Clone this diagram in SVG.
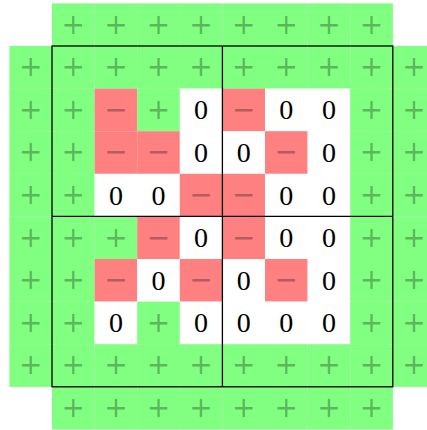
<svg xmlns="http://www.w3.org/2000/svg" width="427" height="430" viewBox="0 0 427 430">
<style>
rect{stroke:none}
.g{fill:#80ff80}
.r{fill:#ff8080}
.w{fill:#ffffff}
.s{font-family:"DejaVu Sans",sans-serif;font-size:28px;fill:#000;fill-opacity:0.3;text-anchor:middle}
.z{font-family:"Liberation Serif","Times New Roman",serif;font-size:28px;fill:#000;text-anchor:middle}
.box{fill:none;stroke:#000;stroke-width:1.3}
</style>
<g id="cells">
<g id="c0-1" transform="translate(52.0,3.4)"><rect class="g" width="42.7" height="42.7"/><text class="s" x="21.3" y="30.2">+</text></g>
<g id="c0-2" transform="translate(94.6,3.4)"><rect class="g" width="42.7" height="42.7"/><text class="s" x="21.3" y="30.2">+</text></g>
<g id="c0-3" transform="translate(137.2,3.4)"><rect class="g" width="42.7" height="42.7"/><text class="s" x="21.3" y="30.2">+</text></g>
<g id="c0-4" transform="translate(179.8,3.4)"><rect class="g" width="42.7" height="42.7"/><text class="s" x="21.3" y="30.2">+</text></g>
<g id="c0-5" transform="translate(222.4,3.4)"><rect class="g" width="42.7" height="42.7"/><text class="s" x="21.3" y="30.2">+</text></g>
<g id="c0-6" transform="translate(265.0,3.4)"><rect class="g" width="42.7" height="42.7"/><text class="s" x="21.3" y="30.2">+</text></g>
<g id="c0-7" transform="translate(307.6,3.4)"><rect class="g" width="42.7" height="42.7"/><text class="s" x="21.3" y="30.2">+</text></g>
<g id="c0-8" transform="translate(350.2,3.4)"><rect class="g" width="42.7" height="42.7"/><text class="s" x="21.3" y="30.2">+</text></g>

<g id="c1-0" transform="translate(9.4,46.0)"><rect class="g" width="42.7" height="42.7"/><text class="s" x="21.3" y="30.2">+</text></g>
<g id="c1-1" transform="translate(52.0,46.0)"><rect class="g" width="42.7" height="42.7"/><text class="s" x="21.3" y="30.2">+</text></g>
<g id="c1-2" transform="translate(94.6,46.0)"><rect class="g" width="42.7" height="42.7"/><text class="s" x="21.3" y="30.2">+</text></g>
<g id="c1-3" transform="translate(137.2,46.0)"><rect class="g" width="42.7" height="42.7"/><text class="s" x="21.3" y="30.2">+</text></g>
<g id="c1-4" transform="translate(179.8,46.0)"><rect class="g" width="42.7" height="42.7"/><text class="s" x="21.3" y="30.2">+</text></g>
<g id="c1-5" transform="translate(222.4,46.0)"><rect class="g" width="42.7" height="42.7"/><text class="s" x="21.3" y="30.2">+</text></g>
<g id="c1-6" transform="translate(265.0,46.0)"><rect class="g" width="42.7" height="42.7"/><text class="s" x="21.3" y="30.2">+</text></g>
<g id="c1-7" transform="translate(307.6,46.0)"><rect class="g" width="42.7" height="42.7"/><text class="s" x="21.3" y="30.2">+</text></g>
<g id="c1-8" transform="translate(350.2,46.0)"><rect class="g" width="42.7" height="42.7"/><text class="s" x="21.3" y="30.2">+</text></g>
<g id="c1-9" transform="translate(392.8,46.0)"><rect class="g" width="42.7" height="42.7"/><text class="s" x="21.3" y="30.2">+</text></g>

<g id="c2-0" transform="translate(9.4,88.6)"><rect class="g" width="42.7" height="42.7"/><text class="s" x="21.3" y="30.2">+</text></g>
<g id="c2-1" transform="translate(52.0,88.6)"><rect class="g" width="42.7" height="42.7"/><text class="s" x="21.3" y="30.2">+</text></g>
<g id="c2-2" transform="translate(94.6,88.6)"><rect class="r" width="42.7" height="42.7"/><text class="s" x="21.3" y="30.2">−</text></g>
<g id="c2-3" transform="translate(137.2,88.6)"><rect class="g" width="42.7" height="42.7"/><text class="s" x="21.3" y="30.2">+</text></g>
<g id="c2-4" transform="translate(179.8,88.6)"><rect class="w" width="42.7" height="42.7"/><text class="z" x="21.3" y="30.8">0</text></g>
<g id="c2-5" transform="translate(222.4,88.6)"><rect class="r" width="42.7" height="42.7"/><text class="s" x="21.3" y="30.2">−</text></g>
<g id="c2-6" transform="translate(265.0,88.6)"><rect class="w" width="42.7" height="42.7"/><text class="z" x="21.3" y="30.8">0</text></g>
<g id="c2-7" transform="translate(307.6,88.6)"><rect class="w" width="42.7" height="42.7"/><text class="z" x="21.3" y="30.8">0</text></g>
<g id="c2-8" transform="translate(350.2,88.6)"><rect class="g" width="42.7" height="42.7"/><text class="s" x="21.3" y="30.2">+</text></g>
<g id="c2-9" transform="translate(392.8,88.6)"><rect class="g" width="42.7" height="42.7"/><text class="s" x="21.3" y="30.2">+</text></g>

<g id="c3-0" transform="translate(9.4,131.2)"><rect class="g" width="42.7" height="42.7"/><text class="s" x="21.3" y="30.2">+</text></g>
<g id="c3-1" transform="translate(52.0,131.2)"><rect class="g" width="42.7" height="42.7"/><text class="s" x="21.3" y="30.2">+</text></g>
<g id="c3-2" transform="translate(94.6,131.2)"><rect class="r" width="42.7" height="42.7"/><text class="s" x="21.3" y="30.2">−</text></g>
<g id="c3-3" transform="translate(137.2,131.2)"><rect class="r" width="42.7" height="42.7"/><text class="s" x="21.3" y="30.2">−</text></g>
<g id="c3-4" transform="translate(179.8,131.2)"><rect class="w" width="42.7" height="42.7"/><text class="z" x="21.3" y="30.8">0</text></g>
<g id="c3-5" transform="translate(222.4,131.2)"><rect class="w" width="42.7" height="42.7"/><text class="z" x="21.3" y="30.8">0</text></g>
<g id="c3-6" transform="translate(265.0,131.2)"><rect class="r" width="42.7" height="42.7"/><text class="s" x="21.3" y="30.2">−</text></g>
<g id="c3-7" transform="translate(307.6,131.2)"><rect class="w" width="42.7" height="42.7"/><text class="z" x="21.3" y="30.8">0</text></g>
<g id="c3-8" transform="translate(350.2,131.2)"><rect class="g" width="42.7" height="42.7"/><text class="s" x="21.3" y="30.2">+</text></g>
<g id="c3-9" transform="translate(392.8,131.2)"><rect class="g" width="42.7" height="42.7"/><text class="s" x="21.3" y="30.2">+</text></g>

<g id="c4-0" transform="translate(9.4,173.8)"><rect class="g" width="42.7" height="42.7"/><text class="s" x="21.3" y="30.2">+</text></g>
<g id="c4-1" transform="translate(52.0,173.8)"><rect class="g" width="42.7" height="42.7"/><text class="s" x="21.3" y="30.2">+</text></g>
<g id="c4-2" transform="translate(94.6,173.8)"><rect class="w" width="42.7" height="42.7"/><text class="z" x="21.3" y="30.8">0</text></g>
<g id="c4-3" transform="translate(137.2,173.8)"><rect class="w" width="42.7" height="42.7"/><text class="z" x="21.3" y="30.8">0</text></g>
<g id="c4-4" transform="translate(179.8,173.8)"><rect class="r" width="42.7" height="42.7"/><text class="s" x="21.3" y="30.2">−</text></g>
<g id="c4-5" transform="translate(222.4,173.8)"><rect class="r" width="42.7" height="42.7"/><text class="s" x="21.3" y="30.2">−</text></g>
<g id="c4-6" transform="translate(265.0,173.8)"><rect class="w" width="42.7" height="42.7"/><text class="z" x="21.3" y="30.8">0</text></g>
<g id="c4-7" transform="translate(307.6,173.8)"><rect class="w" width="42.7" height="42.7"/><text class="z" x="21.3" y="30.8">0</text></g>
<g id="c4-8" transform="translate(350.2,173.8)"><rect class="g" width="42.7" height="42.7"/><text class="s" x="21.3" y="30.2">+</text></g>
<g id="c4-9" transform="translate(392.8,173.8)"><rect class="g" width="42.7" height="42.7"/><text class="s" x="21.3" y="30.2">+</text></g>

<g id="c5-0" transform="translate(9.4,216.4)"><rect class="g" width="42.7" height="42.7"/><text class="s" x="21.3" y="30.2">+</text></g>
<g id="c5-1" transform="translate(52.0,216.4)"><rect class="g" width="42.7" height="42.7"/><text class="s" x="21.3" y="30.2">+</text></g>
<g id="c5-2" transform="translate(94.6,216.4)"><rect class="g" width="42.7" height="42.7"/><text class="s" x="21.3" y="30.2">+</text></g>
<g id="c5-3" transform="translate(137.2,216.4)"><rect class="r" width="42.7" height="42.7"/><text class="s" x="21.3" y="30.2">−</text></g>
<g id="c5-4" transform="translate(179.8,216.4)"><rect class="w" width="42.7" height="42.7"/><text class="z" x="21.3" y="30.8">0</text></g>
<g id="c5-5" transform="translate(222.4,216.4)"><rect class="r" width="42.7" height="42.7"/><text class="s" x="21.3" y="30.2">−</text></g>
<g id="c5-6" transform="translate(265.0,216.4)"><rect class="w" width="42.7" height="42.7"/><text class="z" x="21.3" y="30.8">0</text></g>
<g id="c5-7" transform="translate(307.6,216.4)"><rect class="w" width="42.7" height="42.7"/><text class="z" x="21.3" y="30.8">0</text></g>
<g id="c5-8" transform="translate(350.2,216.4)"><rect class="g" width="42.7" height="42.7"/><text class="s" x="21.3" y="30.2">+</text></g>
<g id="c5-9" transform="translate(392.8,216.4)"><rect class="g" width="42.7" height="42.7"/><text class="s" x="21.3" y="30.2">+</text></g>

<g id="c6-0" transform="translate(9.4,259.0)"><rect class="g" width="42.7" height="42.7"/><text class="s" x="21.3" y="30.2">+</text></g>
<g id="c6-1" transform="translate(52.0,259.0)"><rect class="g" width="42.7" height="42.7"/><text class="s" x="21.3" y="30.2">+</text></g>
<g id="c6-2" transform="translate(94.6,259.0)"><rect class="r" width="42.7" height="42.7"/><text class="s" x="21.3" y="30.2">−</text></g>
<g id="c6-3" transform="translate(137.2,259.0)"><rect class="w" width="42.7" height="42.7"/><text class="z" x="21.3" y="30.8">0</text></g>
<g id="c6-4" transform="translate(179.8,259.0)"><rect class="r" width="42.7" height="42.7"/><text class="s" x="21.3" y="30.2">−</text></g>
<g id="c6-5" transform="translate(222.4,259.0)"><rect class="w" width="42.7" height="42.7"/><text class="z" x="21.3" y="30.8">0</text></g>
<g id="c6-6" transform="translate(265.0,259.0)"><rect class="r" width="42.7" height="42.7"/><text class="s" x="21.3" y="30.2">−</text></g>
<g id="c6-7" transform="translate(307.6,259.0)"><rect class="w" width="42.7" height="42.7"/><text class="z" x="21.3" y="30.8">0</text></g>
<g id="c6-8" transform="translate(350.2,259.0)"><rect class="g" width="42.7" height="42.7"/><text class="s" x="21.3" y="30.2">+</text></g>
<g id="c6-9" transform="translate(392.8,259.0)"><rect class="g" width="42.7" height="42.7"/><text class="s" x="21.3" y="30.2">+</text></g>

<g id="c7-0" transform="translate(9.4,301.6)"><rect class="g" width="42.7" height="42.7"/><text class="s" x="21.3" y="30.2">+</text></g>
<g id="c7-1" transform="translate(52.0,301.6)"><rect class="g" width="42.7" height="42.7"/><text class="s" x="21.3" y="30.2">+</text></g>
<g id="c7-2" transform="translate(94.6,301.6)"><rect class="w" width="42.7" height="42.7"/><text class="z" x="21.3" y="30.8">0</text></g>
<g id="c7-3" transform="translate(137.2,301.6)"><rect class="g" width="42.7" height="42.7"/><text class="s" x="21.3" y="30.2">+</text></g>
<g id="c7-4" transform="translate(179.8,301.6)"><rect class="w" width="42.7" height="42.7"/><text class="z" x="21.3" y="30.8">0</text></g>
<g id="c7-5" transform="translate(222.4,301.6)"><rect class="w" width="42.7" height="42.7"/><text class="z" x="21.3" y="30.8">0</text></g>
<g id="c7-6" transform="translate(265.0,301.6)"><rect class="w" width="42.7" height="42.7"/><text class="z" x="21.3" y="30.8">0</text></g>
<g id="c7-7" transform="translate(307.6,301.6)"><rect class="w" width="42.7" height="42.7"/><text class="z" x="21.3" y="30.8">0</text></g>
<g id="c7-8" transform="translate(350.2,301.6)"><rect class="g" width="42.7" height="42.7"/><text class="s" x="21.3" y="30.2">+</text></g>
<g id="c7-9" transform="translate(392.8,301.6)"><rect class="g" width="42.7" height="42.7"/><text class="s" x="21.3" y="30.2">+</text></g>

<g id="c8-0" transform="translate(9.4,344.2)"><rect class="g" width="42.7" height="42.7"/><text class="s" x="21.3" y="30.2">+</text></g>
<g id="c8-1" transform="translate(52.0,344.2)"><rect class="g" width="42.7" height="42.7"/><text class="s" x="21.3" y="30.2">+</text></g>
<g id="c8-2" transform="translate(94.6,344.2)"><rect class="g" width="42.7" height="42.7"/><text class="s" x="21.3" y="30.2">+</text></g>
<g id="c8-3" transform="translate(137.2,344.2)"><rect class="g" width="42.7" height="42.7"/><text class="s" x="21.3" y="30.2">+</text></g>
<g id="c8-4" transform="translate(179.8,344.2)"><rect class="g" width="42.7" height="42.7"/><text class="s" x="21.3" y="30.2">+</text></g>
<g id="c8-5" transform="translate(222.4,344.2)"><rect class="g" width="42.7" height="42.7"/><text class="s" x="21.3" y="30.2">+</text></g>
<g id="c8-6" transform="translate(265.0,344.2)"><rect class="g" width="42.7" height="42.7"/><text class="s" x="21.3" y="30.2">+</text></g>
<g id="c8-7" transform="translate(307.6,344.2)"><rect class="g" width="42.7" height="42.7"/><text class="s" x="21.3" y="30.2">+</text></g>
<g id="c8-8" transform="translate(350.2,344.2)"><rect class="g" width="42.7" height="42.7"/><text class="s" x="21.3" y="30.2">+</text></g>
<g id="c8-9" transform="translate(392.8,344.2)"><rect class="g" width="42.7" height="42.7"/><text class="s" x="21.3" y="30.2">+</text></g>

<g id="c9-1" transform="translate(52.0,386.8)"><rect class="g" width="42.7" height="42.7"/><text class="s" x="21.3" y="30.2">+</text></g>
<g id="c9-2" transform="translate(94.6,386.8)"><rect class="g" width="42.7" height="42.7"/><text class="s" x="21.3" y="30.2">+</text></g>
<g id="c9-3" transform="translate(137.2,386.8)"><rect class="g" width="42.7" height="42.7"/><text class="s" x="21.3" y="30.2">+</text></g>
<g id="c9-4" transform="translate(179.8,386.8)"><rect class="g" width="42.7" height="42.7"/><text class="s" x="21.3" y="30.2">+</text></g>
<g id="c9-5" transform="translate(222.4,386.8)"><rect class="g" width="42.7" height="42.7"/><text class="s" x="21.3" y="30.2">+</text></g>
<g id="c9-6" transform="translate(265.0,386.8)"><rect class="g" width="42.7" height="42.7"/><text class="s" x="21.3" y="30.2">+</text></g>
<g id="c9-7" transform="translate(307.6,386.8)"><rect class="g" width="42.7" height="42.7"/><text class="s" x="21.3" y="30.2">+</text></g>
<g id="c9-8" transform="translate(350.2,386.8)"><rect class="g" width="42.7" height="42.7"/><text class="s" x="21.3" y="30.2">+</text></g>
</g>
<g id="frame">
<rect class="box" x="52.0" y="46.0" width="340.8" height="340.8"/>
<line class="box" x1="222.4" y1="46.0" x2="222.4" y2="386.8"/>
<line class="box" x1="52.0" y1="216.4" x2="392.8" y2="216.4"/>
</g>
</svg>
